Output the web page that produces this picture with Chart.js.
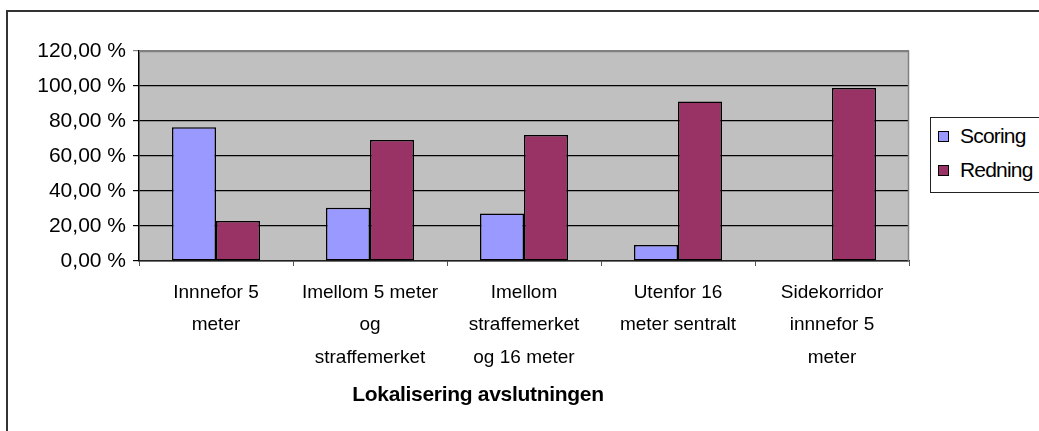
<!DOCTYPE html>
<html>
<head>
<meta charset="utf-8">
<script src="https://cdn.jsdelivr.net/npm/chart.js@4/dist/chart.umd.min.js"></script>
<style>
  html, body { margin: 0; padding: 0; background: #fff; overflow: hidden; }
  #wrap { position: relative; width: 1039px; height: 431px; }
  #frame { position: absolute; left: 6px; top: 10px; width: 1200px; height: 600px;
           border-left: 2px solid #333; border-top: 2px solid #333; box-sizing: border-box; }
  canvas { position: absolute; left: 0; top: 0; }
  #legend { position: absolute; left: 930px; top: 117px; width: 200px; height: 76px;
            border: 1px solid #222; box-sizing: border-box; background: #fff;
            font-family: "Liberation Sans", Arial, sans-serif; font-size: 21px; color: #000; }
  .item { position: absolute; left: 7px; display: flex; align-items: center; letter-spacing: -0.8px; }
  .sw { width: 9px; height: 9px; border: 1px solid #000; margin-right: 11px; }
  #xtitle { position: absolute; top: 382px; left: 478px; transform: translateX(-50%); white-space: nowrap;
            font-family: "Liberation Sans", Arial, sans-serif; font-weight: bold; font-size: 21px; color: #000; letter-spacing: -0.3px; }
</style>
</head>
<body>
<div id="wrap">
  <div id="frame"></div>
  <canvas id="c" width="1039" height="431"></canvas>
  <div id="legend"></div>
  <div id="xtitle"></div>
</div>
<script>
const categories = [
  ["Innnefor 5", "meter"],
  ["Imellom 5 meter", "og", "straffemerket"],
  ["Imellom", "straffemerket", "og 16 meter"],
  ["Utenfor 16", "meter sentralt"],
  ["Sidekorridor", "innnefor 5", "meter"]
];
const seriesNames = ["Scoring", "Redning"];
const scoring = [76.4, 30.5, 27.2, 9.1, 0];
const redning = [22.9, 69.1, 72.0, 91.2, 98.9];
const seriesColors = ["#9999FF", "#993366"];
const yTicks = [0, 20, 40, 60, 80, 100, 120];
const xTitle = "Lokalisering avslutningen";

const FONT = '"Liberation Sans", Arial, sans-serif';

const plotBg = {
  id: 'plotBg',
  beforeDraw(chart) {
    const {ctx, chartArea: a} = chart;
    ctx.save();
    ctx.fillStyle = '#C0C0C0';
    ctx.fillRect(a.left, a.top, a.right - a.left, a.bottom - a.top);
    ctx.restore();
  },
  afterDatasetsDraw(chart) {
    const {ctx, chartArea: a} = chart;
    ctx.save();
    ctx.strokeStyle = '#808080';
    ctx.lineWidth = 1.5;
    ctx.beginPath();
    ctx.moveTo(a.left, a.top + 0.5);
    ctx.lineTo(a.right - 0.5, a.top + 0.5);
    ctx.lineTo(a.right - 0.5, a.bottom);
    ctx.stroke();
    ctx.restore();
  }
};

const chart = new Chart(document.getElementById('c'), {
  type: 'bar',
  data: {
    labels: categories,
    datasets: [
      { label: seriesNames[0], data: scoring, backgroundColor: seriesColors[0], borderColor: '#000', borderWidth: 1.5, borderSkipped: false },
      { label: seriesNames[1], data: redning, backgroundColor: seriesColors[1], borderColor: '#000', borderWidth: 1.5, borderSkipped: false }
    ]
  },
  options: {
    responsive: false,
    animation: false,
    devicePixelRatio: 1,
    layout: { padding: { left: 0, right: 130, top: 51, bottom: 0 } },
    datasets: { bar: { barPercentage: 1, categoryPercentage: 0.5714 } },
    plugins: { legend: { display: false }, tooltip: { enabled: false } },
    scales: {
      x: {
        afterFit(s) { s.height = 170; },
        grid: { offset: true, drawOnChartArea: false, drawTicks: true, tickLength: 5, color: '#555', lineWidth: 1 },
        border: { display: true, color: '#222', width: 1.5 },
        ticks: { autoSkip: false, maxRotation: 0, minRotation: 0, padding: 10, color: '#000',
                 font: { family: FONT, size: 19, lineHeight: 1.72 } }
      },
      y: {
        min: 0, max: 120,
        afterFit(s) { s.width = 139; },
        afterBuildTicks(s) { s.ticks = yTicks.map(v => ({ value: v })); },
        grid: { drawTicks: true, tickLength: 6, lineWidth: 1.2,
                color: c => (c.tick && c.tick.value === 120) ? '#808080' : '#000' },
        border: { display: true, color: '#000', width: 1.5 },
        ticks: { padding: 7, color: '#000', font: { family: FONT, size: 21 },
                 callback: v => v.toFixed(2).replace('.', ',') + ' %' }
      }
    }
  },
  plugins: [plotBg]
});

// HTML legend and axis title built from the same arrays
const leg = document.getElementById('legend');
seriesNames.forEach((n, i) => {
  const d = document.createElement('div');
  d.className = 'item';
  d.style.top = (i === 0 ? 6 : 40) + 'px';
  d.innerHTML = '<span class="sw" style="background:' + seriesColors[i] + '"></span><span>' + n + '</span>';
  leg.appendChild(d);
});
document.getElementById('xtitle').textContent = xTitle;
</script>
</body>
</html>
